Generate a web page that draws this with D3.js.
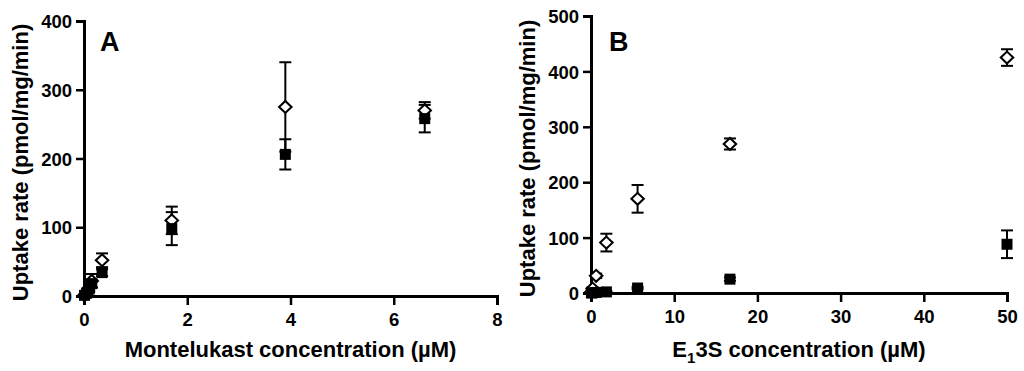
<!DOCTYPE html>
<html>
<head>
<meta charset="utf-8">
<script src="https://cdn.jsdelivr.net/npm/d3@7"></script>
<style>
  body { margin: 0; background: #fff; }
  svg { display: block; }
  text { font-family: "Liberation Sans", Arial, sans-serif; font-weight: bold; fill: #000; }
</style>
</head>
<body>
<div id="chart"></div>
<script>
// panel A - montelukast
const aConc = [0.01, 0.05, 0.1, 0.15, 0.35, 1.7, 3.9, 6.6];
const aOpen = [1, 5, 12, 22, 52, 110, 275, 270];
const aOpenErr = [1, 2, 4, 10, 10, 20, 65, 12];
const aFilled = [1, 4, 10, 18, 34, 98, 206, 258];
const aFilledErr = [1, 2, 4, 5, 5, 24, 22, 20];
const aXTicks = [0, 2, 4, 6, 8];
const aYTicks = [0, 100, 200, 300, 400];

// panel B - E1S
const bConc = [0.05, 0.2, 0.62, 1.85, 5.6, 16.7, 50];
const bOpen = [2, 8, 31, 91, 170, 269, 425];
const bOpenErr = [1, 2, 4, 16, 25, 10, 15];
const bFilled = [0, 0.5, 1, 2, 9, 25, 88];
const bFilledErr = [0, 0, 0, 1, 2, 3, 25];
const bXTicks = [0, 10, 20, 30, 40, 50];
const bYTicks = [0, 100, 200, 300, 400, 500];

const width = 1024, height = 371;

const svg = d3.select("#chart")
    .append("svg")
    .attr("width", width)
    .attr("height", height);

function drawPanel(opt) {
    const g = svg.append("g");

    const x = d3.scaleLinear().domain(opt.xDomain).range([opt.left, opt.right]);
    const y = d3.scaleLinear().domain(opt.yDomain).range([opt.bottom, opt.top]);

    const xAxis = g.append("g")
        .attr("transform", `translate(0,${opt.bottom})`)
        .call(d3.axisBottom(x).tickValues(opt.xTicks).tickSize(9).tickPadding(5).tickFormat(d3.format("d")));
    const yAxis = g.append("g")
        .attr("transform", `translate(${opt.left},0)`)
        .call(d3.axisLeft(y).tickValues(opt.yTicks).tickSize(8).tickPadding(4).tickFormat(d3.format("d")));

    [xAxis, yAxis].forEach(ax => {
        ax.select(".domain").attr("stroke", "#000").attr("stroke-width", 3);
        ax.selectAll(".tick line").attr("stroke", "#000").attr("stroke-width", 2.5);
        ax.selectAll(".tick text").style("font-size", "18.5px");
    });
    xAxis.selectAll(".tick text").attr("dy", "0.85em");
    yAxis.selectAll(".tick text").attr("dy", "0.36em");

    // error bars
    const series = [
        { vals: opt.open, err: opt.openErr },
        { vals: opt.filled, err: opt.filledErr }
    ];
    series.forEach(s => {
        const eb = g.append("g").attr("stroke", "#000").attr("stroke-width", 2);
        opt.conc.forEach((c, i) => {
            if (!s.err[i]) return;
            const cx = x(c);
            const y1 = y(s.vals[i] + s.err[i]), y2 = y(Math.max(0, s.vals[i] - s.err[i]));
            eb.append("line").attr("x1", cx).attr("x2", cx).attr("y1", y1).attr("y2", y2);
            eb.append("line").attr("x1", cx - 6).attr("x2", cx + 6).attr("y1", y1).attr("y2", y1);
            eb.append("line").attr("x1", cx - 6).attr("x2", cx + 6).attr("y1", y2).attr("y2", y2);
        });
    });

    // open diamonds
    g.append("g").selectAll("path")
        .data(opt.conc.map((c, i) => [c, opt.open[i]]))
        .join("path")
        .attr("d", d3.symbol(d3.symbolDiamond2, 90))
        .attr("transform", d => `translate(${x(d[0])},${y(d[1])}) scale(1.05,1)`)
        .attr("fill", "#fff")
        .attr("stroke", "#000")
        .attr("stroke-width", 2);

    // filled squares
    g.append("g").selectAll("rect")
        .data(opt.conc.map((c, i) => [c, opt.filled[i]]))
        .join("rect")
        .attr("x", d => x(d[0]) - 5.5)
        .attr("y", d => y(d[1]) - 5.5)
        .attr("width", 11)
        .attr("height", 11)
        .attr("fill", "#000");

    // panel letter
    g.append("text")
        .attr("x", opt.letterX)
        .attr("y", 51)
        .style("font-size", "27px")
        .text(opt.letter);

    // axis titles
    const xt = g.append("text")
        .attr("x", (opt.left + opt.right) / 2)
        .attr("y", 357)
        .attr("text-anchor", "middle")
        .style("font-size", "22px");
    if (opt.xTitleSub) {
        xt.append("tspan").text("E");
        xt.append("tspan").attr("dy", 6).style("font-size", "15px").text("1");
        xt.append("tspan").attr("dy", -6).text("3S concentration (µM)");
    } else {
        xt.text(opt.xTitle);
    }

    g.append("text")
        .attr("transform", `translate(${opt.yTitleX},${(opt.top + opt.bottom) / 2 + 4}) rotate(-90)`)
        .attr("text-anchor", "middle")
        .style("font-size", "22px")
        .text("Uptake rate (pmol/mg/min)");
}

drawPanel({
    conc: aConc, open: aOpen, openErr: aOpenErr, filled: aFilled, filledErr: aFilledErr,
    xDomain: [0, 8], yDomain: [0, 400], xTicks: aXTicks, yTicks: aYTicks,
    left: 84, right: 497, top: 21, bottom: 296,
    letter: "A", letterX: 100, yTitleX: 28,
    xTitle: "Montelukast concentration (µM)"
});

drawPanel({
    conc: bConc, open: bOpen, openErr: bOpenErr, filled: bFilled, filledErr: bFilledErr,
    xDomain: [0, 50], yDomain: [0, 500], xTicks: bXTicks, yTicks: bYTicks,
    left: 591, right: 1007, top: 16, bottom: 293,
    letter: "B", letterX: 609, yTitleX: 535,
    xTitleSub: true
});
</script>
</body>
</html>
